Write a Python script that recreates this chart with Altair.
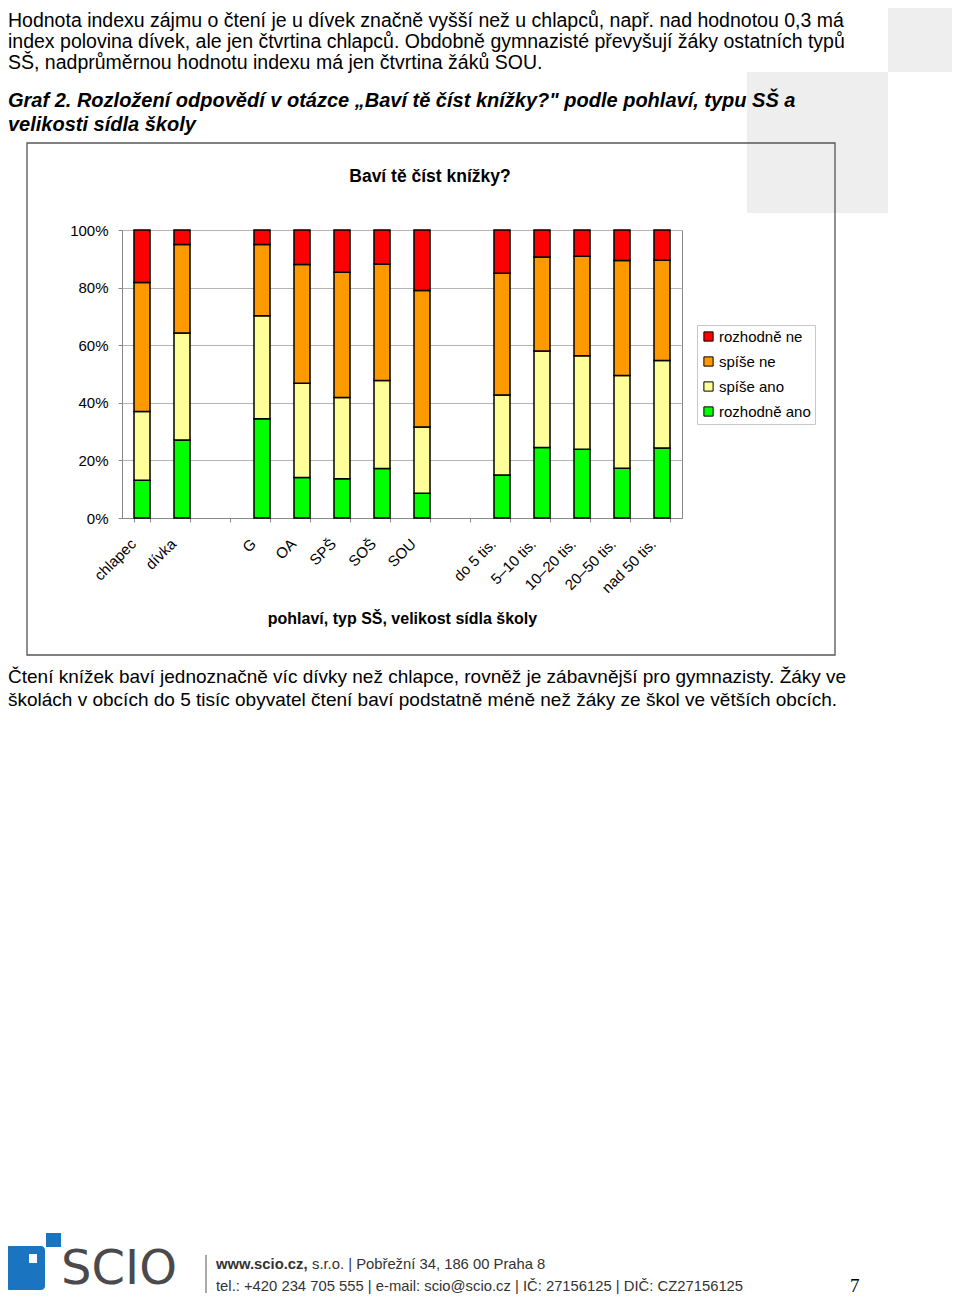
import altair as alt
import pandas as pd

# ---------------- data ----------------
categories = ["chlapec", "dívka", "G", "OA", "SPŠ", "SOŠ", "SOU",
              "do 5 tis.", "5–10 tis.", "10–20 tis.", "20–50 tis.", "nad 50 tis."]
axis_slots = ["chlapec", "dívka", " ", "G", "OA", "SPŠ", "SOŠ", "SOU", "  ",
              "do 5 tis.", "5–10 tis.", "10–20 tis.", "20–50 tis.", "nad 50 tis."]

rozhodne_ano = [13.1, 27.1, 34.5, 14.1, 13.6, 17.2, 8.6, 14.9, 24.5, 23.9, 17.3, 24.3]
spise_ano    = [23.9, 37.1, 35.7, 32.7, 28.2, 30.5, 23.0, 27.8, 33.5, 32.4, 32.2, 30.4]
spise_ne     = [44.8, 30.8, 24.8, 41.2, 43.5, 40.5, 47.4, 42.3, 32.6, 34.6, 39.9, 34.8]
rozhodne_ne  = [18.2, 5.0, 5.0, 12.0, 14.7, 11.8, 21.0, 15.0, 9.4, 9.1, 10.6, 10.5]

series = ["rozhodně ne", "spíše ne", "spíše ano", "rozhodně ano"]
series_colors = ["#ff0000", "#ff9900", "#ffff99", "#00ff00"]
y_ticks = [0, 0.2, 0.4, 0.6, 0.8, 1.0]

chart_title = "Baví tě číst knížky?"
x_title = "pohlaví, typ SŠ, velikost sídla školy"

top_par = [
    "Hodnota indexu zájmu o čtení je u dívek značně vyšší než u chlapců, např. nad hodnotou 0,3 má",
    "index polovina dívek, ale jen čtvrtina chlapců. Obdobně gymnazisté převyšují žáky ostatních typů",
    "SŠ, nadprůměrnou hodnotu indexu má jen čtvrtina žáků SOU.",
]
graf_caption = [
    "Graf 2. Rozložení odpovědí v otázce „Baví tě číst knížky?\" podle pohlaví, typu SŠ a",
    "velikosti sídla školy",
]
bottom_par = [
    "Čtení knížek baví jednoznačně víc dívky než chlapce, rovněž je zábavnější pro gymnazisty. Žáky ve",
    "školách v obcích do 5 tisíc obyvatel čtení baví podstatně méně než žáky ze škol ve větších obcích.",
]
footer_bold = "www.scio.cz,"
footer_1 = "s.r.o. | Pobřežní 34, 186 00 Praha 8"
footer_2 = "tel.: +420 234 705 555 | e-mail: scio@scio.cz | IČ: 27156125 | DIČ: CZ27156125"
logo_text = "SCIO"
page_no = "7"

# ---------------- table for the bars ----------------
rows = []
for i, c in enumerate(categories):
    for order, (name, vals) in enumerate([("rozhodně ano", rozhodne_ano), ("spíše ano", spise_ano),
                                          ("spíše ne", spise_ne), ("rozhodně ne", rozhodne_ne)]):
        rows.append({"kat": c, "odp": name, "podil": vals[i] / 100.0, "poradi": order})
df = pd.DataFrame(rows)
one = pd.DataFrame({"d": [0]})

# plot-area origin in page pixels (page margin 8 + padding)
OX, OY = 122, 230
FONT = "Liberation Sans"


def px(x):
    return alt.value(x - OX)


def py(y):
    return alt.value(y - OY)


def txt(lines, x, y, size, weight="normal", style="normal", font=FONT, color="black",
        align="left", lh=23.5):
    return alt.Chart(one).mark_text(
        text=lines, align=align, baseline="alphabetic", fontSize=size, fontWeight=weight,
        fontStyle=style, font=font, color=color, lineHeight=lh
    ).encode(x=px(x), y=py(y))


def box(x1, y1, x2, y2, fill, stroke=None, sw=1, radius=0):
    kw = dict(fill=fill, cornerRadius=radius)
    if stroke:
        kw.update(stroke=stroke, strokeWidth=sw)
    return alt.Chart(one).mark_rect(**kw).encode(x=px(x1), x2=px(x2), y=py(y1), y2=py(y2))


# decorative page elements
bg1 = box(888, 0, 960, 72, "#eeeeee")
bg2 = box(747, 72, 888, 213, "#eeeeee")
frame = box(27, 143, 835, 655, "transparent", stroke="#555555", sw=1.3)

bars = alt.Chart(df).mark_bar(stroke="black", strokeWidth=1.5).encode(
    x=alt.X("kat:N", sort=axis_slots,
            scale=alt.Scale(domain=axis_slots, paddingInner=0.6, paddingOuter=0.3),
            axis=alt.Axis(title=x_title, grid=False, domainColor="#888888", tickColor="#888888",
                          tickSize=4, tickBand="extent", labelAngle=-45, labelAlign="right",
                          labelBaseline="middle", labelOffset=-9, labelPadding=19,
                          labelFontSize=15, labelFont=FONT, labelColor="black",
                          labelOverlap=False, labelLimit=300,
                          titleFont=FONT, titleFontSize=16, titleFontWeight="bold",
                          titleColor="black", titleY=105, titleBaseline="alphabetic")),
    y=alt.Y("podil:Q", stack="zero", scale=alt.Scale(domain=[0, 1], nice=False),
            axis=alt.Axis(title=None, format=".0%", values=y_ticks, domainColor="#888888",
                          tickColor="#888888", tickSize=4, gridColor="#b4b4b4",
                          labelFont=FONT, labelFontSize=15, labelPadding=10,
                          labelColor="black")),
    color=alt.Color("odp:N", scale=alt.Scale(domain=series, range=series_colors),
                    legend=alt.Legend(title=None, orient="none", legendX=575, legendY=95,
                                      padding=4, strokeColor="#c8c8c8", fillColor="white",
                                      symbolType="square", symbolSize=85,
                                      symbolStrokeColor="black", symbolStrokeWidth=1,
                                      symbolOpacity=1, labelFont=FONT, labelFontSize=15,
                                      labelColor="black", labelOffset=3, rowPadding=9)),
    order=alt.Order("poradi:Q", sort="ascending"),
)

title_t = txt(chart_title, 430, 181.5, 17.5, weight="bold", align="center")

top_t = txt(top_par, 8, 26.5, 19.5, lh=21)
graf_t = txt(graf_caption, 8, 107, 20, weight="bold", style="italic", lh=23.5)
bottom_t = txt(bottom_par, 8, 683, 19, lh=23)

logo_big = box(5, 1246, 45, 1290, "#1b74bf", radius=4)
logo_hole = box(29, 1254, 37, 1263, "white")
logo_small = box(46, 1233, 61, 1247, "#1b74bf")
logo_t = txt(logo_text, 61, 1284, 48, font="DejaVu Sans", color="#4a4a4c")
sep = alt.Chart(one).mark_rule(color="#555555", strokeWidth=1).encode(
    x=px(206), y=py(1255), y2=py(1293))
foot_b = txt(footer_bold, 216, 1269, 14.8, weight="bold", font=FONT, color="#333333")
foot_1 = txt(footer_1, 312, 1269, 14.8, font=FONT, color="#333333")
foot_2 = txt(footer_2, 216, 1291, 14.8, font=FONT, color="#333333")
page_t = txt(page_no, 850, 1292, 19, font="Liberation Serif")

chart = alt.layer(
    bg1, bg2, frame, bars, title_t, top_t, graf_t, bottom_t,
    logo_big, logo_hole, logo_small, logo_t, sep, foot_b, foot_1, foot_2, page_t,
).properties(
    width=560, height=288,
    autosize=alt.AutoSizeParams(type="none"),
    padding={"left": 114, "top": 222, "right": 270, "bottom": 778},
    background="white",
).configure_view(stroke="#888888", strokeWidth=1)

chart.save("out.html", embed_options={"renderer": "svg", "actions": False})
